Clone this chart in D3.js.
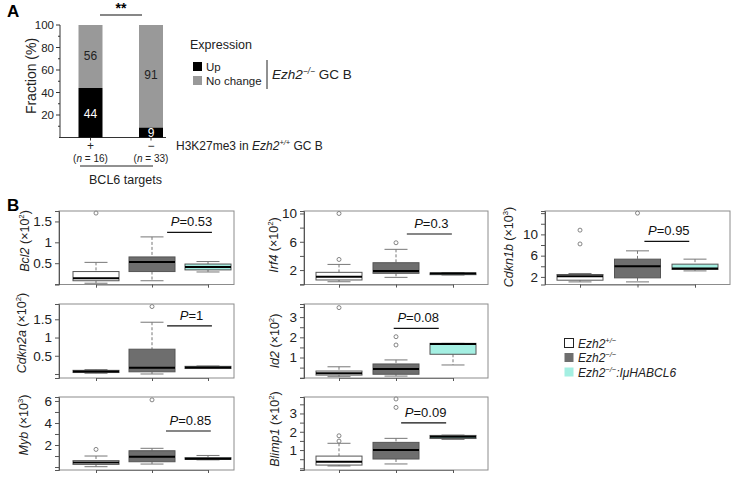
<!DOCTYPE html>
<html><head><meta charset="utf-8">
<script src="https://cdn.jsdelivr.net/npm/d3@7"></script>
<style>
body{margin:0;background:#fff;}
svg{font-family:"Liberation Sans",Arial,Helvetica,sans-serif;}
</style></head>
<body><svg id="chart" width="744" height="483"></svg>
<script>
// ---------- Panel A data ----------
const aCategories = ["+", "\u2212"];
const aCounts = ["16", "33"];
const aUp = [44, 9];
const aNoChange = [56, 91];
const aTicks = [20, 40, 60, 80, 100];

// ---------- Panel B data ----------
const groups = ["Ezh2+/\u2212", "Ezh2\u2212/\u2212", "Ezh2\u2212/\u2212:I\u03bcHABCL6"];
const genes = ["Bcl2", "Irf4", "Cdkn1b", "Cdkn2a", "Id2", "Myb", "Blimp1"];
const exponents = ["2", "2", "3", "2", "2", "3", "2"];
const pValues = ["0.53", "0.3", "0.95", "1", "0.08", "0.85", "0.09"];
// box stats per group: [lower whisker, Q1, median, Q3, upper whisker]
const bcl2Stats = [[0.02, 0.08, 0.14, 0.30, 0.52], [0.08, 0.30, 0.53, 0.65, 1.13], [0.29, 0.34, 0.41, 0.48, 0.54]];
const bcl2Out = [[1.70], [], []];
const irf4Stats = [[0.35, 0.6, 1.06, 1.68, 2.8], [0.97, 1.54, 1.86, 3.04, 4.93], [1.3, 1.35, 1.5, 1.6, 1.65]];
const irf4Out = [[3.5, 10], [5.86], []];
const cdkn1bStats = [[1.06, 1.38, 2.13, 2.45, 2.64], [1.06, 1.82, 4.0, 5.34, 6.9], [3.13, 3.4, 3.58, 4.4, 5.34]];
const cdkn1bOut = [[8.2, 10.8], [14.0], []];
const cdkn2aStats = [[0.02, 0.04, 0.07, 0.10, 0.12], [0.0, 0.06, 0.17, 0.68, 1.42], [0.15, 0.15, 0.18, 0.21, 0.22]];
const cdkn2aOut = [[], [1.85], []];
const id2Stats = [[0.05, 0.13, 0.22, 0.33, 0.54], [0.08, 0.17, 0.43, 0.68, 0.88], [0.63, 1.16, 1.67, 1.70, 1.70]];
const id2Out = [[3.47], [1.62, 2.03], []];
const mybStats = [[0.03, 0.24, 0.40, 0.58, 1.0], [0.27, 0.48, 0.94, 1.48, 1.7], [0.65, 0.70, 0.75, 0.85, 1.05]];
const mybOut = [[1.6], [6.1], []];
const blimp1Stats = [[0.13, 0.18, 0.36, 0.67, 1.37], [0.24, 0.51, 1.0, 1.42, 1.64], [1.58, 1.63, 1.73, 1.80, 1.82]];
const blimp1Out = [[1.49, 1.78], [3.33, 3.79], []];
// y-axis ticks and their labels
const bcl2Ticks = [0, 0.5, 1, 1.5], bcl2Labels = ["", "0.5", "1", "1.5"];
const irf4Ticks = [0, 2, 4, 6, 8, 10], irf4Labels = ["", "2", "", "6", "", "10"];
const cdkn1bTicks = [2, 4, 6, 8, 10, 12, 14], cdkn1bLabels = ["2", "", "6", "", "10", "", ""];
const cdkn2aTicks = [0, 0.5, 1, 1.5], cdkn2aLabels = ["", "0.5", "1", "1.5"];
const id2Ticks = [0, 0.5, 1, 1.5, 2, 2.5, 3, 3.5], id2Labels = ["", "", "1", "", "2", "", "3", ""];
const mybTicks = [0, 1, 2, 3, 4, 5, 6], mybLabels = ["", "", "2", "", "4", "", "6"];
const blimp1Ticks = [0, 0.5, 1, 1.5, 2, 2.5, 3, 3.5], blimp1Labels = ["", "", "1", "", "2", "", "3", ""];
// height (data units) of the P-value bar
const pBarLevel = [1.24, 7.1, 8.7, 1.32, 2.44, 3.27, 2.49];

// ---------- layout ----------
const svg = d3.select("#chart");
const FONT = "'Liberation Sans',Arial,Helvetica,sans-serif";

function rich(sel, parts, size) {
  parts.forEach(p => {
    const t = sel.append("tspan").text(p.t);
    if (p.i) t.attr("font-style", "italic");
    if (p.sup) t.attr("font-size", size * 0.62).attr("dy", -size * 0.4);
    if (p.down) t.attr("dy", size * 0.4);
  });
  return sel;
}

// ===== Panel A =====
svg.append("text").attr("x", 7).attr("y", 17).attr("font-size", 17).attr("font-weight", "bold").text("A");
const yA = d3.scaleLinear().domain([0, 100]).range([137.5, 25]);
const xA = d3.scalePoint().domain(aCategories).range([90.5, 151]);
const barW = 24;
const gA = svg.append("g");
// y axis
gA.append("line").attr("x1", 60).attr("x2", 60).attr("y1", yA(100)).attr("y2", yA(0)).attr("stroke", "#333");
const minorA = d3.range(10, 100, 20);
gA.selectAll(".mj").data(aTicks).join("line").attr("x1", 56).attr("x2", 60)
  .attr("y1", d => yA(d)).attr("y2", d => yA(d)).attr("stroke", "#333");
gA.selectAll(".mn").data(minorA).join("line").attr("class", "mn").attr("x1", 58).attr("x2", 60)
  .attr("y1", d => yA(d)).attr("y2", d => yA(d)).attr("stroke", "#333");
gA.selectAll(".tl").data(aTicks).join("text").attr("class", "tl").attr("x", 54).attr("y", d => yA(d) + 4)
  .attr("text-anchor", "end").attr("font-size", 11.5).attr("fill", "#222").text(d => d);
gA.append("text").attr("transform", "translate(36,76) rotate(-90)").attr("text-anchor", "middle")
  .attr("font-size", 14).attr("fill", "#222").text("Fraction (%)");
// x axis
gA.append("line").attr("x1", 59).attr("x2", 166).attr("y1", yA(0)).attr("y2", yA(0)).attr("stroke", "#333");
gA.selectAll(".xt").data(aCategories).join("line").attr("x1", d => xA(d)).attr("x2", d => xA(d))
  .attr("y1", yA(0)).attr("y2", yA(0) + 3).attr("stroke", "#333");
// bars
const stacked = aCategories.map((c, i) => ({c, up: aUp[i], nc: aNoChange[i]}));
gA.selectAll(".up").data(stacked).join("rect").attr("x", d => xA(d.c) - barW / 2).attr("width", barW)
  .attr("y", d => yA(d.up)).attr("height", d => yA(0) - yA(d.up)).attr("fill", "#000");
gA.selectAll(".nc").data(stacked).join("rect").attr("x", d => xA(d.c) - barW / 2).attr("width", barW)
  .attr("y", d => yA(d.up + d.nc)).attr("height", d => yA(d.up) - yA(d.up + d.nc)).attr("fill", "#999");
gA.selectAll(".upl").data(stacked).join("text").attr("x", d => xA(d.c)).attr("y", d => yA(d.up / 2) + 5)
  .attr("text-anchor", "middle").attr("font-size", 12).attr("fill", "#fff").text(d => d.up);
gA.selectAll(".ncl").data(stacked).join("text").attr("x", d => xA(d.c)).attr("y", d => yA(d.up + d.nc / 2) + 3)
  .attr("text-anchor", "middle").attr("font-size", 12).attr("fill", "#222").text(d => d.nc);
// category labels
gA.selectAll(".cat").data(aCategories).join("text").attr("x", d => xA(d)).attr("y", 150)
  .attr("text-anchor", "middle").attr("font-size", 12).attr("fill", "#222").text(d => d);
aCategories.forEach((c, i) => {
  rich(gA.append("text").attr("x", xA(c)).attr("y", 162).attr("text-anchor", "middle").attr("font-size", 10).attr("fill", "#222"),
    [{t: "("}, {t: "n", i: true}, {t: " = " + aCounts[i] + ")"}], 10);
});
gA.append("line").attr("x1", 80).attr("x2", 153).attr("y1", 166).attr("y2", 166).attr("stroke", "#222");
gA.append("text").attr("x", 125.5).attr("y", 184).attr("text-anchor", "middle").attr("font-size", 12.5).attr("fill", "#222").text("BCL6 targets");
rich(gA.append("text").attr("x", 176).attr("y", 150).attr("font-size", 12).attr("fill", "#222"),
  [{t: "H3K27me3 in "}, {t: "Ezh2", i: true}, {t: "+/+", i: true, sup: true}, {t: " GC B", down: true}], 12);
// significance
gA.append("line").attr("x1", 100).attr("x2", 142).attr("y1", 15).attr("y2", 15).attr("stroke", "#111").attr("stroke-width", 1.2);
gA.append("text").attr("x", 121).attr("y", 13).attr("text-anchor", "middle").attr("font-size", 14).attr("font-weight", "bold").text("**");
// legend
gA.append("text").attr("x", 190).attr("y", 49).attr("font-size", 12.5).attr("fill", "#222").text("Expression");
const legA = [{l: "Up", c: "#000"}, {l: "No change", c: "#999"}];
legA.forEach((d, i) => {
  gA.append("rect").attr("x", 193).attr("y", 62 + i * 14).attr("width", 9).attr("height", 9).attr("fill", d.c);
  gA.append("text").attr("x", 206).attr("y", 70.5 + i * 14).attr("font-size", 11.5).attr("fill", "#222").text(d.l);
});
gA.append("line").attr("x1", 267).attr("x2", 267).attr("y1", 60).attr("y2", 89).attr("stroke", "#222");
rich(gA.append("text").attr("x", 272).attr("y", 79).attr("font-size", 13.5).attr("fill", "#222"),
  [{t: "Ezh2", i: true}, {t: "\u2212/\u2212", i: true, sup: true}, {t: " GC B", down: true}], 13.5);

// ===== Panel B =====
svg.append("text").attr("x", 7).attr("y", 211).attr("font-size", 17).attr("font-weight", "bold").text("B");
const colX = [{left: 59, right: 234, c1: 96, c3: 208}, {left: 304, right: 488, c1: 339, c3: 453}, {left: 545, right: 730, c1: 580, c3: 695}];
const rowY = [{top: 211, bottom: 284.5}, {top: 304, bottom: 378}, {top: 397, bottom: 470}];
const fills = ["#ffffff", "#6e6e6e", "#a4efe2"];
const panels = [
  {stats: bcl2Stats, out: bcl2Out, ticks: bcl2Ticks, labels: bcl2Labels, col: 0, row: 0, dom: [-0.01, 1.75], tx: 29, ty: 241, px: [2.27, 3.07]},
  {stats: irf4Stats, out: irf4Out, ticks: irf4Ticks, labels: irf4Labels, col: 1, row: 0, dom: [-0.04, 10.35], tx: 278, ty: 245, px: [2.19, 2.98]},
  {stats: cdkn1bStats, out: cdkn1bOut, ticks: cdkn1bTicks, labels: cdkn1bLabels, col: 2, row: 0, dom: [0.57, 14.4], tx: 513, ty: 247, px: [2.12, 2.9]},
  {stats: cdkn2aStats, out: cdkn2aOut, ticks: cdkn2aTicks, labels: cdkn2aLabels, col: 0, row: 1, dom: [-0.11, 1.92], tx: 26, ty: 333, px: [2.27, 3.07]},
  {stats: id2Stats, out: id2Out, ticks: id2Ticks, labels: id2Labels, col: 1, row: 1, dom: [-0.015, 3.65], tx: 279, ty: 341, px: [1.96, 2.75]},
  {stats: mybStats, out: mybOut, ticks: mybTicks, labels: mybLabels, col: 0, row: 2, dom: [-0.27, 6.36], tx: 28, ty: 425, px: [2.25, 3.05]},
  {stats: blimp1Stats, out: blimp1Out, ticks: blimp1Ticks, labels: blimp1Labels, col: 1, row: 2, dom: [-0.09, 3.9], tx: 279, ty: 429, px: [2.09, 2.88]}
];
const boxW = 46;
panels.forEach((p, k) => {
  const cx = colX[p.col], ry = rowY[p.row];
  const x = d3.scaleLinear().domain([1, 3]).range([cx.c1, cx.c3]);
  const y = d3.scaleLinear().domain(p.dom).range([ry.bottom, ry.top]);
  const g = svg.append("g");
  // frame
  g.append("rect").attr("x", cx.left).attr("y", ry.top).attr("width", cx.right - cx.left).attr("height", ry.bottom - ry.top)
    .attr("fill", "none").attr("stroke", "#8c8c8c").attr("stroke-width", 1);
  // y axis
  const yAxis = d3.axisLeft(y).tickValues(p.ticks).tickSize(4).tickPadding(3).tickFormat((d, i) => p.labels[i]);
  const ya = g.append("g").attr("transform", `translate(${cx.left},0)`).call(yAxis);
  ya.select(".domain").attr("stroke", "#555");
  ya.selectAll(".tick line").attr("stroke", "#555");
  ya.selectAll("text").attr("font-size", 13.5).attr("font-family", FONT).attr("fill", "#222");
  // x axis ticks
  const xAxis = d3.axisBottom(x).tickValues([1, 2, 3]).tickSize(3).tickFormat("");
  const xa = g.append("g").attr("transform", `translate(0,${ry.bottom})`).call(xAxis);
  xa.select(".domain").attr("stroke", "#777");
  xa.selectAll(".tick line").attr("stroke", "#555");
  // boxes
  p.stats.forEach((s, gi) => {
    const c = x(gi + 1);
    const [lo, q1, md, q3, hi] = s;
    g.append("line").attr("x1", c).attr("x2", c).attr("y1", y(hi)).attr("y2", y(q3)).attr("stroke", "#777").attr("stroke-dasharray", "3,2");
    g.append("line").attr("x1", c).attr("x2", c).attr("y1", y(q1)).attr("y2", y(lo)).attr("stroke", "#777").attr("stroke-dasharray", "3,2");
    [lo, hi].forEach(v => g.append("line").attr("x1", c - boxW / 4).attr("x2", c + boxW / 4).attr("y1", y(v)).attr("y2", y(v)).attr("stroke", "#777"));
    g.append("rect").attr("x", c - boxW / 2).attr("width", boxW).attr("y", y(q3)).attr("height", Math.max(0.5, y(q1) - y(q3)))
      .attr("fill", fills[gi]).attr("stroke", "#555").attr("stroke-width", 1);
    g.append("line").attr("x1", c - boxW / 2).attr("x2", c + boxW / 2).attr("y1", y(md)).attr("y2", y(md)).attr("stroke", "#000").attr("stroke-width", 2);
    g.selectAll(null).data(p.out[gi]).join("circle").attr("cx", c).attr("cy", d => y(d)).attr("r", 2)
      .attr("fill", "#fff").attr("stroke", "#777").attr("stroke-width", 0.9);
  });
  // P-value bar
  const by = y(pBarLevel[k]);
  g.append("line").attr("x1", x(p.px[0])).attr("x2", x(p.px[1])).attr("y1", by).attr("y2", by).attr("stroke", "#111").attr("stroke-width", 1.2);
  rich(g.append("text").attr("x", (x(p.px[0]) + x(p.px[1])) / 2 + 2).attr("y", by - 6).attr("text-anchor", "middle")
    .attr("font-size", 13).attr("fill", "#111"), [{t: "P", i: true}, {t: "=" + pValues[k]}], 13);
  // y title
  rich(g.append("text").attr("transform", `translate(${p.tx},${p.ty}) rotate(-90)`).attr("text-anchor", "middle")
    .attr("font-size", 12.5).attr("fill", "#222"),
    [{t: genes[k], i: true}, {t: " (\u00d710"}, {t: exponents[k], sup: true}, {t: ")", down: true}], 12.5);
});
// legend B
groups.forEach((gname, i) => {
  svg.append("rect").attr("x", 564.5).attr("y", 338.5 + i * 14.5).attr("width", 9).attr("height", 9)
    .attr("fill", fills[i]).attr("stroke", i === 0 ? "#222" : "none");
  const m = gname.match(/^(Ezh2)(\S+?\/\S)(.*)$/);
  rich(svg.append("text").attr("x", 578).attr("y", 347.5 + i * 14.5).attr("font-size", 12).attr("font-style", "italic").attr("fill", "#222"),
    [{t: m[1], i: true}, {t: m[2], i: true, sup: true}].concat(m[3] ? [{t: m[3], i: true, down: true}] : []), 12);
});
</script></body></html>
